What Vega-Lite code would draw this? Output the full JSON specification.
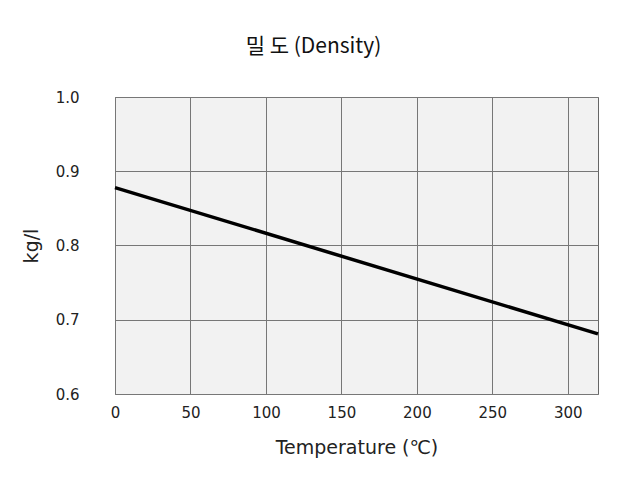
{
  "$schema": "https://vega.github.io/schema/vega-lite/v6.json",
  "width": 483,
  "height": 297,
  "autosize": "none",
  "padding": {"left": 115, "top": 97, "right": 29, "bottom": 88},
  "background": "white",
  "title": {
    "text": "밀 도 (Density)",
    "font": "Noto Sans CJK KR",
    "fontSize": 21,
    "fontWeight": "normal",
    "color": "#111111",
    "anchor": "middle",
    "dx": -43,
    "offset": 33
  },
  "config": {
    "view": {"fill": "#f2f2f2", "stroke": "#666666", "strokeWidth": 1},
    "axis": {
      "labelFont": "DejaVu Sans",
      "labelFontSize": 15,
      "labelColor": "#222222",
      "titleFont": "DejaVu Sans",
      "titleFontSize": 19,
      "titleFontWeight": "normal",
      "titleColor": "#222222",
      "grid": true,
      "gridColor": "#777777",
      "gridOpacity": 1,
      "gridWidth": 1,
      "ticks": false,
      "domain": false
    }
  },
  "data": {
    "values": [
      {"t": 0, "d": 0.878},
      {"t": 320, "d": 0.681}
    ]
  },
  "mark": {"type": "line", "color": "black", "strokeWidth": 3.5},
  "encoding": {
    "x": {
      "field": "t",
      "type": "quantitative",
      "scale": {"domain": [0, 320], "nice": false},
      "axis": {"values": [0, 50, 100, 150, 200, 250, 300], "title": "Temperature (℃)", "labelPadding": 11, "titlePadding": 18, "labelFlush": false}
    },
    "y": {
      "field": "d",
      "type": "quantitative",
      "scale": {"domain": [0.6, 1.0], "nice": false, "zero": false},
      "axis": {"values": [0.6, 0.7, 0.8, 0.9, 1.0], "format": ".1f", "title": "kg/l", "labelPadding": 36, "titlePadding": 14}
    }
  }
}
